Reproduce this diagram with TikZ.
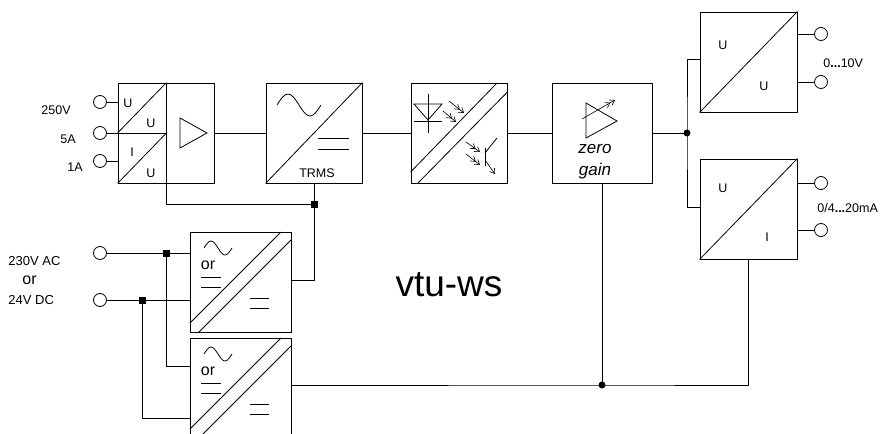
\documentclass[tikz,border=0pt]{standalone}
\usepackage{fontspec}
\setmainfont{Liberation Sans}
\usetikzlibrary{arrows.meta}
\begin{document}
\begin{tikzpicture}[x=1pt,y=-1pt,line width=0.8pt,
  blk/.style={draw,rectangle,inner sep=0pt,minimum width=#1,minimum height=100},
  term/.style={draw,circle,inner sep=0pt,minimum size=13},
  lbl/.style={inner sep=0pt,font=\fontsize{12.5}{14}\selectfont},
  big/.style={inner sep=0pt,font=\fontsize{16}{18}\selectfont},
  light/.style={-{Straight Barb[length=4.5pt,width=6pt]Straight Barb[length=4.5pt,width=6pt]},line width=0.6pt},
  dot/.style={fill=black}]
\clip (0,0) rectangle (887,434);
% ---- input block
\node[blk=48] (inb) at (142,133) {};
\node[blk=48] (amp) at (190,133) {};
\draw (inb.west) -- (inb.north east);
\draw (inb.south west) -- (inb.east);
\draw (180,118) -- (207,133) -- (180,148) -- cycle;
\node[lbl] (u1) at (128,103) {U};
\node[lbl] (u2) at (151,123) {U};
\node[lbl] (i1) at (132,152) {I};
\node[lbl] (u3) at (151,173) {U};
\node[term] (t1) at (100,102) {};
\node[term] (t2) at (100,133) {};
\node[term] (t3) at (100,161) {};
\draw (t1.east) -- (t1.east -| inb.west);
\draw (t2.east) -- (inb.east);
\draw (t3.east) -- (t3.east -| inb.west);
\node[lbl] (l1) at (56,110) {250V};
\node[lbl] (l2) at (68,139) {5A};
\node[lbl] (l3) at (75,167) {1A};
% ---- TRMS
\node[blk=96] (trms) at (314,133) {};
\draw (trms.south west) -- (trms.north east);
\draw (277,105) sin (288,94) cos (299,105) sin (310,116) cos (321,105);
\draw (318,138) -- (349,138) (318,149) -- (349,149);
\node[lbl] (trmst) at (317,173) {TRMS};
\draw (amp.east) -- (trms.west);
% ---- opto
\node[blk=96] (opto) at (459,133) {};
\draw (opto.west |- 0,172) -- (497,83);
\draw (418,183) -- (opto.east |- 0,92);
\draw (428,94) -- (428,133);
\draw (414,104) -- (442,104) -- (428,120) -- cycle;
\draw (414,121) -- (442,121);
\draw[light] (449,101) -- (464,113);
\draw[light] (443,111) -- (456,122);
\draw (485,148) -- (485,166);
\draw (485,153) -- (497,138);
\draw[-{Straight Barb[length=4.5pt,width=6pt]},line width=0.6pt] (485,160) -- (495,174);
\draw[light] (466,142) -- (480,152);
\draw[light] (466,154) -- (480,165);
\draw (trms.east) -- (opto.west);
% ---- zero gain
\node[blk=100] (zg) at (602,133) {};
\draw (586,103) -- (617,121) -- (586,138) -- cycle;
\draw[light] (582,119) -- (615,100);
\node[big,font=\fontsize{17}{19}\selectfont\itshape] (zero) at (595,149) {zero};
\node[big,font=\fontsize{17}{19}\selectfont\itshape] (gain) at (595,171) {gain};
\draw (opto.east) -- (zg.west);
% ---- outputs
\node[blk=97] (o1) at (748.5,62) {};
\draw (o1.south west) -- (o1.north east);
\node[lbl] (ou1) at (723,45) {U};
\node[lbl] (ou2) at (764,86) {U};
\node[term] (t4) at (821,34) {};
\node[term] (t5) at (821,82) {};
\draw (t4.west) -- (t4.west -| o1.east);
\draw (t5.west) -- (t5.west -| o1.east);
\node[lbl,anchor=west] (l4) at (823,63) {0\textbf{...}10V};
\node[blk=97] (o2) at (748.5,209) {};
\draw (o2.south west) -- (o2.north east);
\node[lbl] (ou3) at (723,188) {U};
\node[lbl] (oi) at (767,237) {I};
\node[term] (t8) at (821,183) {};
\node[term] (t9) at (821,230) {};
\draw (t8.west) -- (t8.west -| o2.east);
\draw (t9.west) -- (t9.west -| o2.east);
\node[lbl,anchor=west] (l5) at (817,208) {0/4\textbf{...}20mA};
\coordinate (J1) at (687,133);
\draw (zg.east) -- (J1);
\draw (o1.west |- 0,59) -| (J1) |- (o2.west |- 0,207);
\fill[dot] (J1) circle (3.5);
% ---- power supplies
\node[blk=101] (ps1) at (240.5,282) {};
\node[blk=101] (ps2) at (240.5,388) {};
\foreach \p/\o in {ps1/0,ps2/106}{
  \draw (190,323+\o) -- (281,232+\o);
  \draw (199,332+\o) -- (291,240+\o);
  \draw (204,248+\o) sin (211,241+\o) cos (218,248+\o) sin (225,255+\o) cos (232,248+\o);
  \node[big] at (208,265+\o) {or};
  \draw (201,277+\o) -- (221,277+\o) (201,287+\o) -- (221,287+\o);
  \draw (250,298+\o) -- (269,298+\o) (250,308+\o) -- (269,308+\o);
}
\node[term] (t6) at (100,253) {};
\node[term] (t7) at (100,300) {};
\node[lbl,anchor=west,font=\fontsize{13}{15}\selectfont] (l6) at (8,261) {230V AC};
\node[big,anchor=west] (l7) at (22,280) {or};
\node[lbl,anchor=west,font=\fontsize{13}{15}\selectfont] (l8) at (8,300) {24V DC};
\coordinate (J4) at (166,253);
\coordinate (J5) at (142,300);
\draw (t6.east) -- (ps1.west |- t6);
\draw (t7.east) -- (ps1.west |- t7);
\draw (J4) |- (ps2.west |- 0,366);
\draw (J5) |- (ps2.west |- 0,418);
\fill[dot] (138.5,296.5) rectangle ++(7,7);
\fill[dot] (162.5,249.5) rectangle ++(7,7);
% ---- supply junctions
\coordinate (J2) at (314,204);
\draw (inb.south east) |- (J2);
\draw (trms.south) -- (J2);
\draw (ps1.east |- 0,280) -| (J2);
\fill[dot] (310.5,200.5) rectangle ++(7,7);
\coordinate (J3) at (602,385);
\draw (zg.south) -- (J3);
\draw (ps2.east |- J3) -- (J3) -| (o2.south);
\fill[dot] (J3) circle (3.5);
% ---- title
\node[inner sep=0pt,font=\fontsize{37}{40}\selectfont] (title) at (449,285) {vtu-ws};
\end{tikzpicture}
\end{document}
